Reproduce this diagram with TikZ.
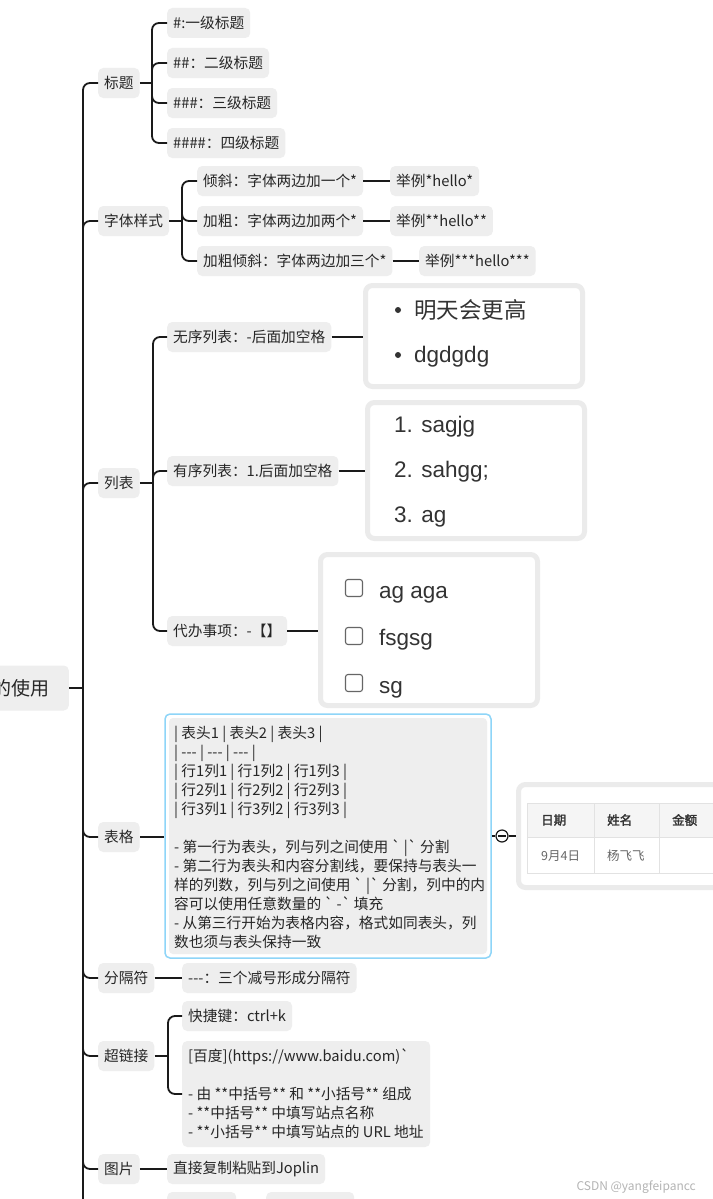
\documentclass[tikz,border=0pt]{standalone}
\usepackage{fontspec}
\newfontfamily\cjk{Noto Sans CJK SC}
\newfontfamily\cjkb{Noto Sans CJK SC}[FakeBold=2]
\newfontfamily\lsans{Liberation Sans}
\definecolor{boxgray}{HTML}{EEEEEE}
\definecolor{linec}{HTML}{1A1A1A}
\definecolor{txt}{HTML}{262626}
\definecolor{framec}{HTML}{EBEBEB}
\definecolor{sky}{HTML}{8ED5F8}
\definecolor{itemc}{HTML}{333333}
\definecolor{gridc}{HTML}{E2E2E2}
\definecolor{headc}{HTML}{F5F5F5}
\definecolor{bodyc}{HTML}{666666}
\definecolor{wmc}{HTML}{B4B4B4}
\tikzset{
  tbox/.style={fill=boxgray, rounded corners=5pt, minimum height=30pt, inner xsep=6pt, inner ysep=0pt, anchor=west, text=txt, font=\cjk\fontsize{14.7pt}{19pt}\selectfont},
  conn/.style={draw=linec, line width=1.8pt, rounded corners=7pt},
  frame/.style={draw=framec, line width=5pt, fill=white, rounded corners=7pt, inner sep=0pt},
  litem/.style={anchor=base west, inner sep=0pt, text=itemc, font=\lsans\fontsize{22.5pt}{27pt}\selectfont},
  chk/.style={draw=bodyc, line width=1.1pt, rounded corners=2.5pt, minimum size=17pt, inner sep=0pt, fill=white},
  bul/.style={circle, fill=itemc, minimum size=6pt, inner sep=0pt},
  cell/.style={inner sep=0pt, anchor=west, font=\cjk\fontsize{12.5pt}{15pt}\selectfont, text=itemc},
  para/.style={anchor=west, align=left, inner sep=0pt, text=txt, font=\cjk\fontsize{14.7pt}{19pt}\selectfont},
}
\begin{document}
\begin{tikzpicture}[x=1pt,y=-1pt]
\useasboundingbox (0,0) rectangle (712,1199);
\fill[white] (0,0) rectangle (712,1199);

% root
\node[tbox, anchor=east, minimum height=45pt, inner xsep=19pt, font=\cjk\fontsize{19pt}{23pt}\selectfont] (root) at (69,688) {的使用};

% level 1
\node[tbox] (t1) at (98,83) {标题};
\node[tbox] (t2) at (98,221) {字体样式};
\node[tbox] (t3) at (98,483) {列表};
\node[tbox] (t4) at (98,837) {表格};
\node[tbox] (t5) at (98,978) {分隔符};
\node[tbox] (t6) at (98,1056) {超链接};
\node[tbox] (t7) at (98,1169) {图片};

\coordinate (tj) at (83,688);
\coordinate (tend) at (83,1215);
\draw[conn] (root.east) -- (tj);
\foreach \n in {t1,t2,t3,t4,t5,t6,t7} \draw[conn] (tj) |- (\n.west);
\draw[conn] (tj) -- (tend);

% headings
\node[tbox] (h1) at (167,23) {\#:一级标题};
\node[tbox] (h2) at (167,63) {\#\#：二级标题};
\node[tbox] (h3) at (167,103) {\#\#\#：三级标题};
\node[tbox] (h4) at (167,143) {\#\#\#\#：四级标题};
\coordinate (j1) at (152,83);
\draw[conn] (t1.east) -- (j1);
\foreach \n in {h1,h2,h3,h4} \draw[conn] (j1) |- (\n.west);

% font styles
\node[tbox] (f1) at (197,181) {倾斜：字体两边加一个*};
\node[tbox] (f2) at (197,221) {加粗：字体两边加两个*};
\node[tbox] (f3) at (197,261) {加粗倾斜：字体两边加三个*};
\node[tbox] (e1) at (390,181) {举例*hello*};
\node[tbox] (e2) at (390,221) {举例**hello**};
\node[tbox] (e3) at (419,261) {举例***hello***};
\coordinate (j2) at (182,221);
\draw[conn] (t2.east) -- (j2);
\foreach \n in {f1,f2,f3} \draw[conn] (j2) |- (\n.west);
\draw[conn] (f1.east) -- (e1.west);
\draw[conn] (f2.east) -- (e2.west);
\draw[conn] (f3.east) -- (e3.west);

% lists
\node[tbox] (l1) at (167,337) {无序列表：-后面加空格};
\node[tbox] (l2) at (167,471) {有序列表：1.后面加空格};
\node[tbox] (l3) at (167,631) {代办事项：-【】};
\coordinate (j3) at (153,483);
\draw[conn] (t3.east) -- (j3);
\foreach \n in {l1,l2,l3} \draw[conn] (j3) |- (\n.west);

\node[frame, minimum width=217pt, minimum height=101pt] (ul) at (474,336) {};
\node[frame, minimum width=217pt, minimum height=136pt] (ol) at (476,470.5) {};
\node[frame, minimum width=217pt, minimum height=151pt] (tl) at (429,630) {};
\draw[conn] (l1.east) -- (l1.east -| ul.west);
\draw[conn] (l2.east) -- (l2.east -| ol.west);
\draw[conn] (l3.east) -- (l3.east -| tl.west);

\node[bul] (ub1) at (398,310) {};
\node[anchor=west, inner sep=0pt, text=itemc, font=\cjk\fontsize{22.5pt}{27pt}\selectfont] (ut1) at (414,310) {明天会更高};
\node[bul] (ub2) at (398,355) {};
\node[litem] (ut2) at (414,362) {dgdgdg};
\node[litem] (ot1) at (394,432) {1. sagjg};
\node[litem] (ot2) at (394,477) {2. sahgg;};
\node[litem] (ot3) at (394,522) {3. ag};
\node[chk] (cb1) at (354,588) {};
\node[chk] (cb2) at (354,636) {};
\node[chk] (cb3) at (354,683) {};
\node[litem] (ct1) at (379,598) {ag aga};
\node[litem] (ct2) at (379,645) {fsgsg};
\node[litem] (ct3) at (379,693) {sg};

% table
\node[draw=sky, line width=1.5pt, fill=white, rounded corners=5pt, minimum width=326pt, minimum height=244pt, inner sep=0pt] (tblbg) at (328,836) {};
\node[fill=boxgray, rounded corners=4pt, minimum width=318pt, minimum height=236pt, inner sep=0pt] (tblin) at (328,836) {};
\node[para] (tbltxt) at (174,837) {| 表头1 | 表头2 | 表头3 |\\| --- | --- | --- |\\| 行1列1 | 行1列2 | 行1列3 |\\| 行2列1 | 行2列2 | 行2列3 |\\| 行3列1 | 行3列2 | 行3列3 |\\[19pt]- 第一行为表头，列与列之间使用 ` |`  分割\\- 第二行为表头和内容分割线，要保持与表头一\\样的列数，列与列之间使用 ` |`  分割，列中的内\\容可以使用任意数量的 ` -`  填充\\- 从第三行开始为表格内容，格式如同表头，列\\数也须与表头保持一致};
\draw[conn] (t4.east) -- (t4.east -| tblbg.west);

\node[frame, minimum width=232pt, minimum height=103pt] (imgf) at (634.5,836) {};
\fill[headc] (527,803) rectangle (730,837);
\draw[gridc, line width=1pt] (527,803) rectangle (730,873) (527,837) -- (730,837) (594,803) -- (594,873) (659,803) -- (659,873);
\node[cell, font=\cjkb\fontsize{12.5pt}{15pt}\selectfont] (th1) at (541,820) {日期};
\node[cell, font=\cjkb\fontsize{12.5pt}{15pt}\selectfont] (th2) at (607,820) {姓名};
\node[cell, font=\cjkb\fontsize{12.5pt}{15pt}\selectfont] (th3) at (672,820) {金额};
\node[cell, text=bodyc] (td1) at (541,856) {9月4日};
\node[cell, text=bodyc] (td2) at (607,856) {杨飞飞};

\node[circle, draw=linec, fill=white, line width=1.2pt, minimum size=12pt, inner sep=0pt] (col) at (502,836) {};
\draw[conn] (tblbg.east) -- (col.west);
\draw[conn] (col.east) -- (imgf.west);
\draw[linec, line width=1.2pt] ([xshift=3pt]col.west) -- ([xshift=-3pt]col.east);

% separator
\node[tbox] (s1) at (182,978) {---：三个减号形成分隔符};
\draw[conn] (t5.east) -- (s1.west);

% hyperlink
\node[tbox] (k1) at (182,1016) {快捷键：ctrl+k};
\node[fill=boxgray, rounded corners=5pt, minimum width=248pt, minimum height=106pt, inner sep=0pt, anchor=west] (k2) at (182,1094) {};
\node[para] (k2t) at (188,1094) {[百度](https://www.baidu.com)`\\[19pt]- 由 **中括号** 和 **小括号** 组成\\- **中括号** 中填写站点名称\\- **小括号** 中填写站点的 URL 地址};
\coordinate (j6) at (168,1056);
\draw[conn] (t6.east) -- (j6);
\draw[conn] (j6) |- (k1.west);
\draw[conn] (j6) |- (k2.west);

% image
\node[tbox] (p1) at (167,1169) {直接复制粘贴到Joplin};
\draw[conn] (t7.east) -- (p1.west);

% partial boxes at the bottom
\node[tbox, minimum width=69pt] (b1) at (167,1207) {};
\node[tbox, minimum width=88pt] (b2) at (266,1207) {};

% watermark
\node[font=\cjk\fontsize{12pt}{14pt}\selectfont, text=wmc, anchor=east, inner sep=0pt] (wm) at (696,1187) {CSDN @yangfeipancc};
\end{tikzpicture}
\end{document}
